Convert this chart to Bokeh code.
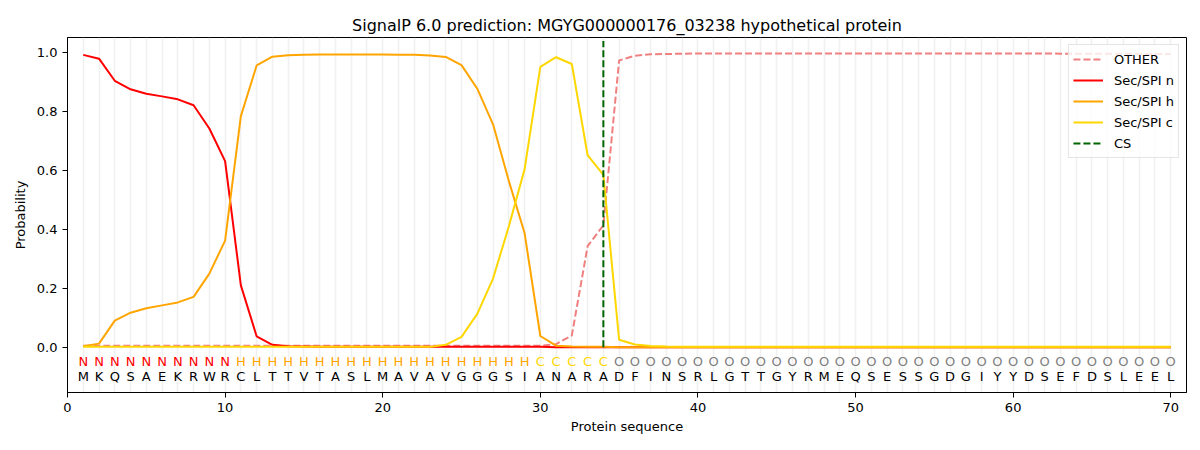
from bokeh.plotting import figure
from bokeh.models import FixedTicker, PrintfTickFormatter, ColumnDataSource, Legend, LegendItem
from bokeh.core.properties import value
from bokeh.embed import file_html
from bokeh.resources import INLINE

sequence = list("MKQSAEKRWRCLTTVTASLMAVAVGGGSIANARADFINSRLGTTGYRMEQSESSGDGIYYDSEFDSLEEL")
regions = list("NNNNNNNNNN" + "HHHHHHHHHHHHHHHHHHH" + "CCCCC" + "O" * 36)
positions = list(range(1, len(sequence) + 1))

other = ([0.005] * 30 + [0.010, 0.040, 0.343, 0.414, 0.974, 0.990, 0.995, 0.996, 0.997]
         + [0.998] * 21 + [0.998, 0.998, 0.997, 0.997, 0.997, 0.997, 0.997, 0.996, 0.996, 0.996])
sec_n = ([0.993, 0.980, 0.905, 0.876, 0.861, 0.852, 0.842, 0.822, 0.743, 0.632,
          0.210, 0.037, 0.008, 0.003, 0.002, 0.001, 0.001, 0.001, 0.001, 0.001]
         + [0.001] * 10 + [0.0] * 40)
sec_h = ([0.003, 0.012, 0.090, 0.117, 0.132, 0.142, 0.152, 0.171, 0.250, 0.362,
          0.785, 0.957, 0.987, 0.992, 0.993, 0.994, 0.994, 0.994, 0.994, 0.994,
          0.993, 0.993, 0.991, 0.986, 0.958, 0.878, 0.757, 0.565, 0.388, 0.038,
          0.005, 0.002, 0.001, 0.001] + [0.0] * 36)
sec_c = ([0.001] * 23 + [0.008, 0.035, 0.113, 0.233, 0.410, 0.604, 0.952,
          0.985, 0.962, 0.652, 0.585, 0.025, 0.009, 0.004, 0.002] + [0.001] * 32)
cs_position = 34
cs_top = 1.04

region_colors = {"N": "red", "H": "orange", "C": "gold", "O": "grey"}

title = "SignalP 6.0 prediction: MGYG000000176_03238 hypothetical protein"

p = figure(width=1192, height=442, output_backend="svg", toolbar_location=None,
           x_range=(0, 71), y_range=(-0.154, 1.052),
           min_border_left=67, min_border_right=6, min_border_top=37, min_border_bottom=50)
p.title.text = title
p.title.align = "center"
p.title.text_font = "DejaVu Sans"
p.title.text_font_size = "16px"
p.title.text_font_style = "normal"
p.title.text_color = "black"
p.title.standoff = 5

p.outline_line_color = "black"
p.outline_line_width = 1
p.background_fill_color = "white"
p.border_fill_color = "white"

p.ygrid.grid_line_color = None
p.xgrid.ticker = FixedTicker(ticks=positions)
p.xgrid.grid_line_color = "#e6e6e6"
p.xgrid.grid_line_width = 1.5
p.xgrid.grid_line_alpha = 0.6

p.xaxis.ticker = FixedTicker(ticks=list(range(0, 71, 10)))
p.yaxis.ticker = FixedTicker(ticks=[0.0, 0.2, 0.4, 0.6, 0.8, 1.0])
p.yaxis.formatter = PrintfTickFormatter(format="%.1f")
for ax in (p.xaxis, p.yaxis):
    ax.axis_line_color = "black"
    ax.major_tick_line_color = "black"
    ax.major_tick_out = 5
    ax.major_tick_in = 0
    ax.minor_tick_line_color = None
    ax.major_label_text_font = "DejaVu Sans"
    ax.major_label_text_font_size = "13px"
    ax.major_label_text_color = "black"
    ax.axis_label_text_font = "DejaVu Sans"
    ax.axis_label_text_font_size = "13px"
    ax.axis_label_text_font_style = "normal"
    ax.axis_label_text_color = "black"
p.xaxis.axis_label = "Protein sequence"
p.yaxis.axis_label = "Probability"
p.xaxis.axis_label_standoff = 4
p.yaxis.axis_label_standoff = 6

r_other = p.line(positions, other, line_color="lightcoral", line_width=2, line_dash="7 3")
r_n = p.line(positions, sec_n, line_color="red", line_width=2)
r_h = p.line(positions, sec_h, line_color="orange", line_width=2)
r_c = p.line(positions, sec_c, line_color="gold", line_width=2)
r_cs = p.line([cs_position, cs_position], [0, cs_top], line_color="darkgreen", line_width=2, line_dash="7 3")

src = ColumnDataSource(dict(
    x=positions,
    aa=sequence,
    reg=regions,
    col=[region_colors[r] for r in regions],
    y_reg=[-0.0475] * len(positions),
    y_aa=[-0.0985] * len(positions),
))
p.text(x="x", y="y_reg", text="reg", text_color="col", source=src,
       text_align="center", text_baseline="middle",
       text_font=value("DejaVu Sans"), text_font_size="13px")
p.text(x="x", y="y_aa", text="aa", text_color="black", source=src,
       text_align="center", text_baseline="middle",
       text_font=value("DejaVu Sans"), text_font_size="13px")

legend = Legend(items=[
    LegendItem(label="OTHER", renderers=[r_other]),
    LegendItem(label="Sec/SPI n", renderers=[r_n]),
    LegendItem(label="Sec/SPI h", renderers=[r_h]),
    LegendItem(label="Sec/SPI c", renderers=[r_c]),
    LegendItem(label="CS", renderers=[r_cs]),
], location="top_right")
legend.label_text_font = "DejaVu Sans"
legend.label_text_font_size = "13px"
legend.label_text_color = "black"
legend.border_line_color = "#cccccc"
legend.border_line_width = 1
legend.background_fill_alpha = 0.8
legend.margin = 7
legend.padding = 4
legend.spacing = 1
legend.glyph_width = 30
legend.label_standoff = 11
p.add_layout(legend)

open("out.html", "w").write(file_html(p, INLINE))
